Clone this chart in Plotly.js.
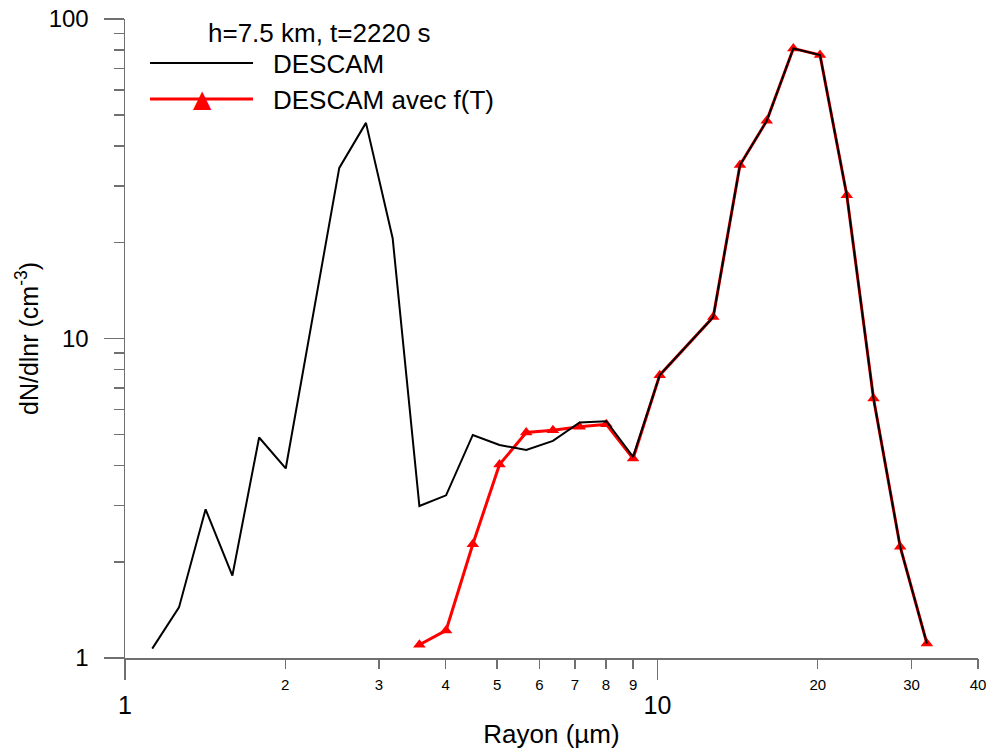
<!DOCTYPE html>
<html><head><meta charset="utf-8">
<script src="https://cdn.plot.ly/plotly-3.0.1.min.js"></script>
<style>html,body{margin:0;padding:0;background:#fff}</style>
</head><body>
<div id="chart" style="width:989px;height:749px"></div>
<script>
// Rayon (µm) and dN/dlnr (cm-3)
const rayonDescam = [1.125,1.263,1.417,1.591,1.786,2.004,2.526,2.835,3.182,3.572,4.009,4.5,5.051,5.67,6.364,7.143,8.018,9.0,10.1,12.73,14.29,16.04,18.0,20.2,22.68,25.46,28.57,32.07];
const dndlnrDescam = [1.07,1.44,2.92,1.81,4.90,3.92,34.2,47.3,20.6,2.99,3.23,4.99,4.64,4.48,4.78,5.46,5.51,4.26,7.68,11.68,34.9,48.0,80.9,77.1,28.1,6.49,2.23,1.11];
const rayonFT = [3.572,4.009,4.5,5.051,5.67,6.364,7.143,8.018,9.0,10.1,12.73,14.29,16.04,18.0,20.2,22.68,25.46,28.57,32.07];
const dndlnrFT = [1.10,1.22,2.27,4.03,5.08,5.16,5.29,5.39,4.21,7.68,11.68,34.9,48.0,80.9,77.1,28.1,6.49,2.23,1.11];

const xMajorTicks = [1,10];
const xMinorTicks = [2,3,4,5,6,7,8,9,20,30,40];
const yMajorTicks = [1,10,100];
const yMinorTicks = [2,3,4,5,6,7,8,9,20,30,40,50,60,70,80,90];

const nameDescam = 'DESCAM';
const nameFT = 'DESCAM avec f(T)';
const legendTitle = 'h=7.5 km, t=2220 s';

const FONT = 'Liberation Sans, Arial, sans-serif';
const AX = '#707070';

const traces = [
  {x: rayonFT, y: dndlnrFT, type: 'scatter', mode: 'lines+markers', name: nameFT,
   xaxis: 'x', yaxis: 'y',
   line: {color: '#ff0000', width: 3},
   marker: {symbol: 'triangle-up', size: 11, color: '#ff0000'}},
  {x: rayonDescam, y: dndlnrDescam, type: 'scatter', mode: 'lines', name: nameDescam,
   xaxis: 'x2', yaxis: 'y',
   line: {color: '#000000', width: 2}}
];

const xr = [0, Math.log10(40)];
const layout = {
  width: 989, height: 749,
  margin: {l: 125, r: 11, t: 19, b: 91},
  paper_bgcolor: '#fff', plot_bgcolor: '#fff',
  showlegend: false,
  font: {family: FONT, color: '#000'},
  xaxis: {
    type: 'log', range: xr, tickmode: 'array', tickvals: xMajorTicks, ticktext: xMajorTicks.map(String),
    ticks: 'outside', ticklen: 20, tickwidth: 1.5, tickcolor: AX,
    showline: true, linecolor: AX, linewidth: 1.5, showgrid: false, zeroline: false,
    tickfont: {size: 25, family: FONT, color: '#000'}, ticklabelstandoff: 4,
    title: {text: 'Rayon (µm)', font: {size: 26, family: FONT, color: '#000'}, standoff: 7}
  },
  xaxis2: {
    type: 'log', range: xr, overlaying: 'x', anchor: 'y', side: 'bottom',
    tickmode: 'array', tickvals: xMinorTicks, ticktext: xMinorTicks.map(String),
    ticks: 'outside', ticklen: 10, tickwidth: 1.5, tickcolor: AX,
    showline: false, showgrid: false, zeroline: false,
    tickfont: {size: 15, family: FONT, color: '#000'}, ticklabelstandoff: 3
  },
  yaxis: {
    type: 'log', range: [0, 2], tickmode: 'array', tickvals: yMajorTicks, ticktext: yMajorTicks.map(String),
    ticks: 'outside', ticklen: 20, tickwidth: 1.5, tickcolor: AX,
    minor: {tickmode: 'array', tickvals: yMinorTicks, ticks: 'outside', ticklen: 10, tickwidth: 1.5, tickcolor: AX, showgrid: false},
    showline: true, linecolor: AX, linewidth: 1.5, showgrid: false, zeroline: false,
    tickfont: {size: 24, family: FONT, color: '#000'}, ticklabelstandoff: 10,
    title: {text: 'dN/dlnr (cm<sup>-3</sup>)', font: {size: 25, family: FONT, color: '#000'}, standoff: 3}
  },
  shapes: [
    {type: 'line', xref: 'paper', yref: 'paper', x0: 0.0293, x1: 0.1501, y0: 0.931, y1: 0.931, line: {color: '#000', width: 2}},
    {type: 'line', xref: 'paper', yref: 'paper', x0: 0.0293, x1: 0.1501, y0: 0.8748, y1: 0.8748, line: {color: '#ff0000', width: 3}}
  ],
  annotations: [
    {text: legendTitle, xref: 'paper', yref: 'paper', x: 0.2286, y: 0.978, xanchor: 'center', yanchor: 'middle', showarrow: false, font: {size: 26, family: FONT, color: '#000'}},
    {text: nameDescam, xref: 'paper', yref: 'paper', x: 0.1715, y: 0.929, xanchor: 'left', yanchor: 'middle', showarrow: false, font: {size: 26, family: FONT, color: '#000'}},
    {text: nameFT, xref: 'paper', yref: 'paper', x: 0.1715, y: 0.873, xanchor: 'left', yanchor: 'middle', showarrow: false, font: {size: 26, family: FONT, color: '#000'}},
    {text: '▲', xref: 'paper', yref: 'paper', x: 0.0903, y: 0.8748, xanchor: 'center', yanchor: 'middle', showarrow: false, font: {size: 24, family: 'DejaVu Sans', color: '#ff0000'}}
  ]
};

Plotly.newPlot('chart', traces, layout, {displayModeBar: false, staticPlot: true});
</script>
</body></html>
